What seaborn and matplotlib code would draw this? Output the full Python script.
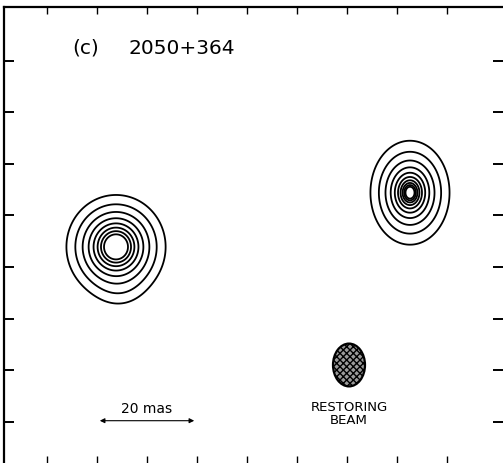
import numpy as np
import matplotlib
matplotlib.use("Agg")
import matplotlib.pyplot as plt
from matplotlib.patches import Ellipse
import seaborn as sns

# component model of the map (relative RA / Dec offsets in mas)
comp_ra = [26.2, 25.5, -32.6]
comp_dec = [3.9, -3.0, 14.4]
comp_peak = [240.0, 0.68, 1000.0]
comp_size_ra = [2.07, 3.0, 0.73]
comp_size_dec = [2.1, 3.0, 0.93]
comp_index = [3.5, 0.0, 2.9]   # 0 -> gaussian knot

# contour levels (factor 2 steps)
levels = [1, 2, 4, 8, 16, 32, 64, 128, 256, 512, 1024]

# restoring beam (mas)
beam_ra, beam_dec = -20.4, -19.0
beam_w, beam_h = 6.4, 8.3

xticks = [-40, -30, -20, -10, 0, 10, 20, 30, 40]
yticks = [-30, -20, -10, 0, 10, 20, 30, 40]

sns.set_theme(style="white")
plt.rcParams["font.family"] = ["DejaVu Sans"]

ra = np.linspace(50, -52, 800)
dec = np.linspace(-40, 52, 740)
RA, DEC = np.meshgrid(ra, dec)
img = np.zeros_like(RA)
for x0, y0, p, sx, sy, n in zip(comp_ra, comp_dec, comp_peak, comp_size_ra, comp_size_dec, comp_index):
    q = np.sqrt(((RA - x0) / sx) ** 2 + ((DEC - y0) / sy) ** 2)
    if n == 0:
        img += p * np.exp(-q ** 2 / 2)
    else:
        img += p * (1 + q ** 8) ** (-n / 8)

fig = plt.figure(figsize=(5.03, 4.64), dpi=100)
ax = fig.add_axes([4 / 503, 0, 499 / 503, 456 / 464])
ax.contour(RA, DEC, img, levels=levels, colors="black", linewidths=1.3)

ax.set_xlim(48.6, -51.2)
ax.set_ylim(-38.0, 50.4)
ax.set_xticks(xticks)
ax.set_yticks(yticks)
ax.tick_params(axis="x", direction="in", top=True, bottom=True, length=5, width=1,
               labelbottom=False, color="black")
ax.tick_params(axis="y", direction="in", left=True, right=True, length=7.5, width=1.4,
               labelleft=False, color="black")
for side in ["left", "top"]:
    ax.spines[side].set_color("black")
    ax.spines[side].set_linewidth(1.6)
for side in ["right", "bottom"]:
    ax.spines[side].set_visible(False)

ax.text(35, 42.6, "(c)", fontsize=14.5, ha="left", va="center", color="black")
ax.text(23.8, 42.6, "2050+364", fontsize=14.5, ha="left", va="center", color="black")

# scale bar
ax.annotate("", xy=(10, -29.8), xytext=(30, -29.8),
            arrowprops=dict(arrowstyle="<|-|>", color="black", lw=0.8, mutation_scale=7))
ax.text(20, -27.3, "20 mas", fontsize=10, ha="center", va="center", color="black")

# restoring beam
beam = Ellipse((beam_ra, beam_dec), beam_w, beam_h, facecolor="#9a9a9a",
               edgecolor="black", lw=1.6, hatch="xxxxx")
ax.add_patch(beam)
ax.text(beam_ra, -28.4, "RESTORING\nBEAM", fontsize=9.5, ha="center", va="center",
        color="black", linespacing=1.0)

fig.savefig("out.png", dpi=100, facecolor="white")
